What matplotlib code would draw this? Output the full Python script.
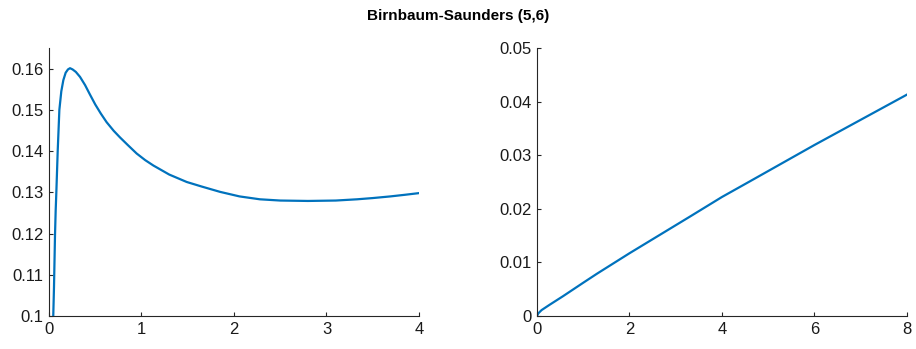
import matplotlib.pyplot as plt

plt.rcParams['font.family'] = ['Liberation Sans', 'DejaVu Sans']

# hazard curve (left panel)
hazard_x = [0.046, 0.050, 0.054, 0.060, 0.065, 0.072, 0.079, 0.094, 0.112, 0.133, 0.155,
            0.180, 0.205, 0.227, 0.255, 0.290, 0.335, 0.390, 0.443, 0.500, 0.560, 0.623,
            0.700, 0.768, 0.850, 0.948, 1.040, 1.128, 1.300, 1.489, 1.650, 1.850, 2.060,
            2.280, 2.500, 2.800, 3.100, 3.330, 3.500, 3.690, 3.850, 4.000]
hazard_y = [0.1000, 0.1035, 0.1071, 0.1140, 0.1197, 0.1255, 0.1298, 0.1400, 0.1500, 0.1545, 0.1572,
            0.1590, 0.1598, 0.1601, 0.1598, 0.1592, 0.1580, 0.1560, 0.1537, 0.1513, 0.1491, 0.1470,
            0.1449, 0.1433, 0.1415, 0.1394, 0.1378, 0.1365, 0.1343, 0.1325, 0.1314, 0.1301, 0.1290,
            0.1283, 0.1280, 0.1279, 0.1280, 0.1283, 0.1286, 0.1290, 0.1294, 0.1298]

# cumulative hazard (right panel)
cumhaz_x = [0.0, 0.03, 0.1, 0.275, 0.565, 1.0, 1.3, 2.0, 2.65, 3.3, 4.0, 4.6, 6.0, 8.0]
cumhaz_y = [0.0, 0.0005, 0.0011, 0.0021, 0.0037, 0.0062, 0.0079, 0.0117, 0.0151, 0.0185, 0.0222,
            0.0251, 0.0319, 0.0413]

title = 'Birnbaum-Saunders (5,6)'
line_color = '#0072BD'
axis_color = '#262626'

fig = plt.figure(figsize=(9.16, 3.49), dpi=100)
ax1 = fig.add_axes([0.0535, 0.0946, 0.4039, 0.7679])
ax2 = fig.add_axes([0.5862, 0.0946, 0.4039, 0.7679])

ax1.plot(hazard_x, hazard_y, color=line_color, lw=1.6)
ax1.set_xlim(0, 4)
ax1.set_ylim(0.1, 0.165)
ax1.set_xticks([0, 1, 2, 3, 4])
ax1.set_yticks([0.10, 0.11, 0.12, 0.13, 0.14, 0.15, 0.16])
ax1.set_yticklabels(['0.1', '0.11', '0.12', '0.13', '0.14', '0.15', '0.16'])

ax2.plot(cumhaz_x, cumhaz_y, color=line_color, lw=1.6)
ax2.set_xlim(0, 8)
ax2.set_ylim(0, 0.05)
ax2.set_xticks([0, 2, 4, 6, 8])
ax2.set_yticks([0, 0.01, 0.02, 0.03, 0.04, 0.05])
ax2.set_yticklabels(['0', '0.01', '0.02', '0.03', '0.04', '0.05'])

for ax in (ax1, ax2):
    ax.spines['top'].set_visible(False)
    ax.spines['right'].set_visible(False)
    for s in ('left', 'bottom'):
        ax.spines[s].set_color(axis_color)
        ax.spines[s].set_linewidth(0.8)
    ax.tick_params(direction='in', length=3, width=0.8, color=axis_color,
                   labelsize=12, labelcolor='#1a1a1a', pad=4)

fig.text(0.5, 0.955, title, ha='center', va='center', fontsize=11, fontweight='bold')

fig.savefig('out.png', dpi=100)
